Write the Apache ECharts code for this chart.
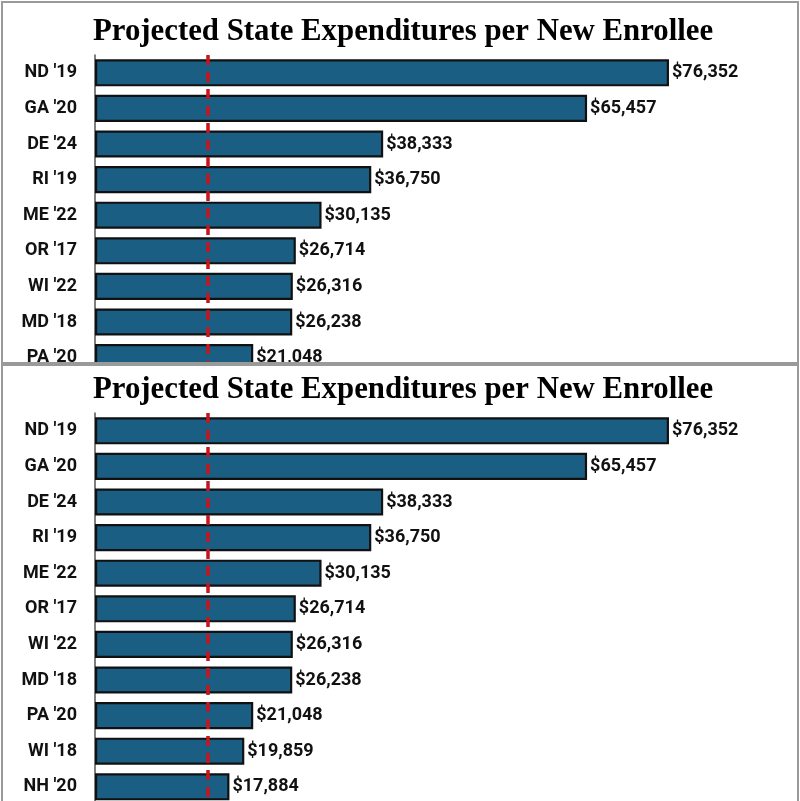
<!DOCTYPE html>
<html>
<head>
<meta charset="utf-8">
<script src="https://cdn.jsdelivr.net/npm/echarts@6/dist/echarts.min.js"></script>
<style>
  html, body { margin: 0; padding: 0; background: #fff; }
  .panel { position: absolute; left: 0; width: 800px; overflow: hidden; background: #fff; }
  .chart { position: absolute; left: 0; top: 0; width: 800px; height: 860px; }
  .frame { position: absolute; left: 1px; width: 794px; border: 2px solid #9a9a9a; pointer-events: none; }
</style>
</head>
<body>
<div class="panel" id="panel_top" style="top:0;height:366px">
  <div class="chart" id="chart_top"></div>
  <div class="frame" style="top:1px;height:359px"></div>
</div>
<div class="panel" id="panel_bottom" style="top:364px;height:437px">
  <div class="chart" id="chart_bottom"></div>
  <div class="frame" style="top:0;height:460px"></div>
</div>
<script>
// data
const states = ["ND '19", "GA '20", "DE '24", "RI '19", "ME '22", "OR '17", "WI '22", "MD '18", "PA '20", "WI '18", "NH '20"];
const costPerEnrollee = [76352, 65457, 38333, 36750, 30135, 26714, 26316, 26238, 21048, 19859, 17884];
const refLineValue = 15000;

const pitch = 35.6; // px per category

const makeOption = (titleTop, gridTop) => ({
  animation: false,
  title: {
    text: "Projected State Expenditures per New Enrollee",
    left: 88,
    top: titleTop,
    textStyle: {
      fontFamily: "Liberation Serif",
      fontWeight: "bold",
      fontSize: 30.8,
      color: "#000",
    },
  },
  grid: {
    left: 95,
    top: gridTop,
    width: 601.4,
    height: pitch * states.length,
  },
  xAxis: {
    type: "value",
    min: 0,
    max: 80000,
    show: false,
  },
  yAxis: {
    type: "category",
    inverse: true,
    data: states,
    axisTick: { show: false },
    axisLine: { lineStyle: { color: "#555", width: 1.5 } },
    axisLabel: {
      margin: 18,
      fontFamily: "Roboto",
      fontWeight: "bold",
      fontSize: 18,
      color: "#111",
    },
  },
  series: [
    {
      type: "bar",
      data: costPerEnrollee,
      barCategoryGap: "24%",
      itemStyle: {
        color: "#1B5E84",
        borderColor: "#111",
        borderWidth: 2.2,
      },
      label: {
        show: true,
        position: "right",
        distance: 3,
        fontFamily: "Roboto",
        fontWeight: "bold",
        fontSize: 18,
        color: "#111",
        formatter: (p) => "$" + p.value.toLocaleString("en-US"),
      },
      markLine: {
        symbol: "none",
        silent: true,
        label: { show: false },
        lineStyle: { color: "#C8141C", width: 3.5, type: [10, 7] },
        data: [{ xAxis: refLineValue }],
      },
      z: 2,
    },
  ],
});

const topChart = echarts.init(document.getElementById("chart_top"));
topChart.setOption(makeOption(12, 55));

const bottomChart = echarts.init(document.getElementById("chart_bottom"));
bottomChart.setOption(makeOption(6, 49));
</script>
</body>
</html>
